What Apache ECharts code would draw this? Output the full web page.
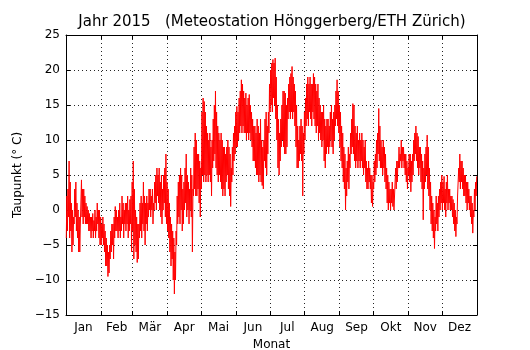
<!DOCTYPE html>
<html>
<head>
<meta charset="utf-8">
<script src="https://cdn.jsdelivr.net/npm/echarts@6/dist/echarts.min.js"></script>
<style>
  html, body { margin: 0; background: #fff; }
  #chart { width: 530px; height: 350px; }
</style>
</head>
<body>
<div id="chart"></div>
<script>
// Taupunkt 2015, pro Tag ein Tief- und ein Hochwert (abwechselnd), aus dem Bild geschätzt
const jan = [-4,2, -3,3, -1,7, -4,4, -3,1, -6,0, -5,-1, -2,3, -1,4, -3,1, -4,0, -6,-1, -6,-2, -2,4.3, -1,3,
  -2,3, -1,2, -2,1, -2,0.5, -2,0, -3,-0.5, -3,-1, -4,-1, -3,-0.5, -4,-1.5, -3,0, -4,-1, -3,1, -2,0, -4,0, -5,-1];
const feb = [-5,-2, -4,-1, -5,-2, -6,-3, -8,-4, -8,-5, -9.5,-6, -9,-5, -7,-3, -6,-2, -5,-2, -7,-1, -4,0.5, -3,0,
  -3,-1, -4,0, -3,1, -4,-1, -3,2, -2,1, -4,0, -2,1, -3,1, -2,2, -4,0, -3,1.5, -2,2, -6,4];
const mar = [-3,7, -7,3, -5,0, -6,-1, -7.5,-2, -7,-2, -4,1, -3,2, -4,1, -2,4, -3,2, -5,1, -2,2, -3,1, -1,3,
  0,3, -1,2, 0,3, -2,1, 0,4, 1,5, 0,6, 2,5, 1,6, 0,4, -1,5, -2,3, 0,5, 1,6, -1,8, -2,4];
const apr = [-3,3, -4,1, -6,-1, -8,-2, -7,-3, -10,-4, -12,-6, -10,-3, -5,2, -2,4, -1,5, -2,6, 0,5, -3,3, -2,4,
  0,6, 1,8, -1,5, 0,4, -2,3, 0,6, -1,5, -6,3, 2,9, 3,11, 2,10, 2,8, 3,8, 1,7, -1,6];
const mai = [3,14, 5,16, 4,15.5, 5,14, 4,12, 5,11, 4,10, 5,11, 4,9, 2,10, 6,13, 7,15, 8,17, 6,14, 5,12,
  4,11, 5,10, 4,11, 3,10, 2,9, 3,9, 2,8, 4,9, 5,10, 3,9, 2,8, 0.5,6, 4,9, 5,11, 7,12, 8,14];
const jun = [9,14.8, 9,14, 10,16, 11,17, 12,18.6, 11,18, 12,17, 11,16, 11,16.7, 10,15, 11,16, 10,16.5, 11,15, 10,14, 9,13,
  7,12, 7,12, 6,11, 5,13, 5,12, 4,11, 5,13, 4,10, 3.5,9, 3,10, 7,13, 6,14, 5,12, 8,14, 11,18];
const jul = [14,20, 15,21, 14,21.5, 16,21, 15,21.7, 13,19, 10,15, 6,13, 5,11, 7,13, 9,15, 10,17, 9,17, 8,16.7, 8,15,
  9,16, 13,18, 14,19, 13,19.5, 14,20.5, 13,19, 14,18, 12,17, 9,15, 6,12, 6,10, 7,12, 8,13, 7,12, 2,11, 8,14];
const aug = [10,16, 12,18, 13,19, 12,18, 14,19, 13,18, 12,18, 14,19.5, 13,19, 12,18, 11,17, 12,18, 10,16, 11,15, 10,14,
  9,14, 10,15, 7,13, 6,12, 8,13, 9,13, 8,12, 9,14, 10,15, 9,13, 8,14, 10,15, 12,17, 13,18.6, 12,17, 11,15];
const sep = [9,14, 7,12, 6,11, 4,9, 3,8, 0,6, 2,7, 4,9, 3,8, 6,11, 8,13, 9,15.2, 8,15, 7,12, 6,11,
  7,12, 6,10, 7,11, 6,10, 7,11, 6,10, 5,9, 6,10, 4,7, 3,6, 3,7, 4,6, 3,5, 1,5, 0.5,4];
const okt = [3,7, 4,8, 5,10, 6,11, 8,14.5, 7,12, 6,10, 6,9, 5,10, 6,9, 4,8, 3,6, 1,5, 0,4, 1,3,
  0,3, 1,4, 0.5,3, 0,2, 2,6, 3,7, 4,7, 6,9, 6,8, 7,10, 6,9, 7,9, 6,8, 5,8, 4,7, 3,6];
const nov = [5,8, 4,8, 2.6,7, 4,8, 5,10, 7,11, 8,12, 7,11, 6,10.5, 5,9, 6,9, 4,8, 3,7, -1.4,6, 3,8,
  4,9, 5,10.7, 3,9, 2,6, 0,4, -2,2, -3,1, -4,0, -5.5,-1, -3,2, -2,1, -3,2, -1,3, 0,4, 1,5];
const dez = [0,4, 1,4.8, 0,3, -1,4, 1,5, 0,3, 1,3, 0,2, 0,2, -1,1.5, -2,1, -3,0, -3.8,-1, -2,2, 2,6,
  4,8, 3,7, 4,7, 3,6, 2,5, 2,5, 1,4, 0,4, 1,3, 0,2, -1,2, -2,1, -3.3,0, -1,3, 0,4, 2,4.8];

const monate = ['Jan', 'Feb', 'Mär', 'Apr', 'Mai', 'Jun', 'Jul', 'Aug', 'Sep', 'Okt', 'Nov', 'Dez'];
// Tag im Jahr (0-basiert), an dem der Monat beginnt
const monatsAnfang = [31, 59, 90, 120, 151, 181, 212, 243, 273, 304, 334];
const monatsMitte = [15.5, 45, 74.5, 105, 135.5, 166, 196.5, 227.5, 258, 288.5, 319, 349.5];
const yMin = -15, yMax = 25, yStep = 5;

const werte = [].concat(jan, feb, mar, apr, mai, jun, jul, aug, sep, okt, nov, dez);
// zwei Werte pro Tag: Tief am Vormittag, Hoch am Nachmittag
const punkte = werte.map((v, i) => [i / 2 + 0.25, v]);

const font = 'DejaVu Sans';
const black = '#000';
const minus = (v) => String(v).replace('-', '\u2212');

const tickStyle = { show: true, inside: true, length: 4, lineStyle: { color: black, width: 1 } };
const gridStyle = { show: true, lineStyle: { color: black, width: 1, type: [1, 3], opacity: 0.85 } };

const chart = echarts.init(document.getElementById('chart'), null, { renderer: 'canvas' });
chart.setOption({
  animation: false,
  backgroundColor: '#fff',
  title: {
    text: 'Jahr 2015   (Meteostation Hönggerberg/ETH Zürich)',
    left: 272,
    textAlign: 'center',
    top: 15,
    padding: 0,
    textStyle: { fontFamily: font, fontSize: 15, fontWeight: 'normal', color: black }
  },
  grid: { left: 66, right: 53, top: 35, bottom: 35, outerBoundsMode: 'none' },
  xAxis: [
    {
      type: 'value', position: 'bottom', min: 0, max: 365,
      axisLine: { show: true, onZero: false, lineStyle: { color: black, width: 1 } },
      axisTick: Object.assign({ customValues: monatsAnfang }, tickStyle),
      axisLabel: {
        customValues: monatsMitte,
        margin: 7,
        color: black, fontFamily: font, fontSize: 12,
        formatter: (v) => {
          let best = 0;
          monatsMitte.forEach((m, i) => { if (Math.abs(m - v) < Math.abs(monatsMitte[best] - v)) best = i; });
          return monate[best];
        }
      },
      splitLine: gridStyle,
      name: 'Monat', nameLocation: 'middle', nameGap: 21,
      nameTextStyle: { fontFamily: font, fontSize: 12, color: black }
    },
    {
      type: 'value', position: 'top', min: 0, max: 365,
      axisLine: { show: true, onZero: false, lineStyle: { color: black, width: 1 } },
      axisTick: Object.assign({ customValues: monatsAnfang }, tickStyle),
      axisLabel: { show: false },
      splitLine: { show: false }
    }
  ],
  yAxis: [
    {
      type: 'value', position: 'left', min: yMin, max: yMax, interval: yStep,
      axisLine: { show: true, onZero: false, lineStyle: { color: black, width: 1 } },
      axisTick: tickStyle,
      axisLabel: { margin: 6, color: black, fontFamily: font, fontSize: 12, formatter: minus },
      splitLine: gridStyle,
      name: 'Taupunkt (° C)', nameLocation: 'middle', nameGap: 38, nameRotate: 90,
      nameTextStyle: { fontFamily: font, fontSize: 12, color: black }
    },
    {
      type: 'value', position: 'right', min: yMin, max: yMax, interval: yStep,
      axisLine: { show: true, onZero: false, lineStyle: { color: black, width: 1 } },
      axisTick: tickStyle,
      axisLabel: { show: false },
      splitLine: { show: false }
    }
  ],
  series: [
    {
      type: 'line',
      xAxisIndex: 0,
      yAxisIndex: 0,
      data: punkte,
      showSymbol: false,
      symbol: 'none',
      sampling: null,
      lineStyle: { color: '#ff0000', width: 1 },
      z: 3
    }
  ]
});
</script>
</body>
</html>
